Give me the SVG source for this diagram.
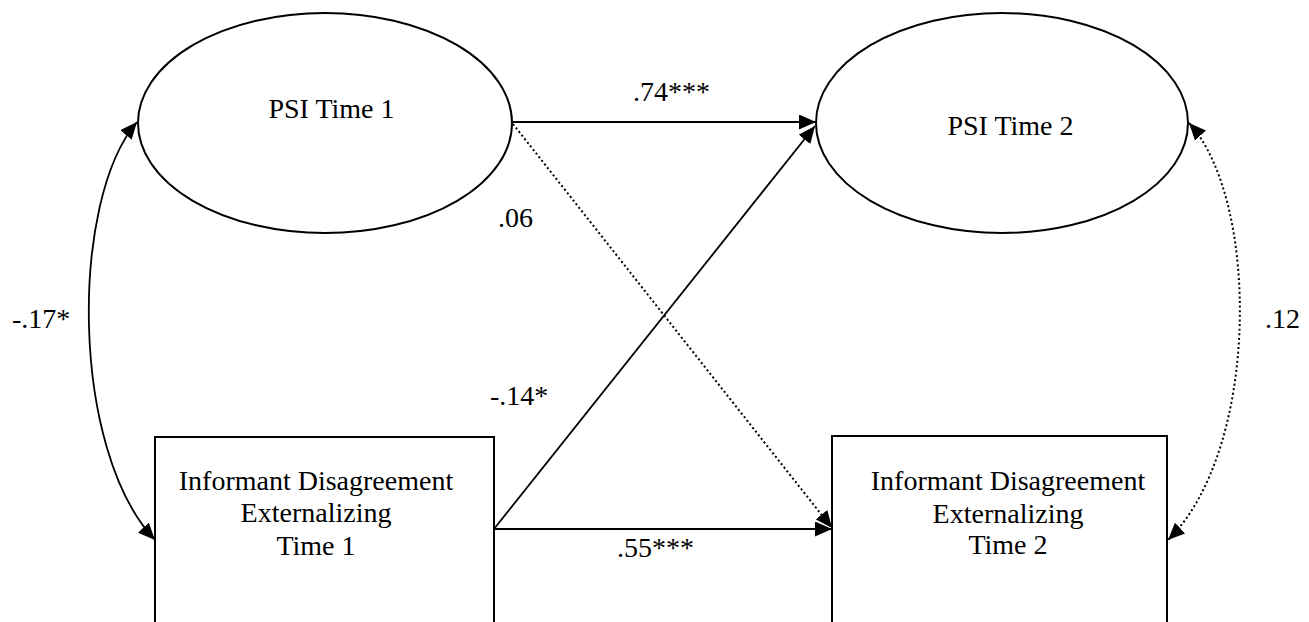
<svg xmlns="http://www.w3.org/2000/svg" width="1309" height="622" viewBox="0 0 1309 622">
<style>
  .node { fill: #ffffff; stroke: #000000; stroke-width: 2; }
  .lbl { font-family: 'Liberation Serif', 'Times New Roman', Times, 'DejaVu Serif', serif; font-size: 28px; fill: #000000; }
  .c { text-anchor: middle; }
  .solid { fill: none; stroke: #000000; stroke-width: 1.8; }
  .dot { fill: none; stroke: #000000; stroke-width: 2; stroke-dasharray: 2 2.6; }
</style>
<defs>
  <marker id="ah" markerUnits="userSpaceOnUse" markerWidth="17" markerHeight="15" refX="17" refY="7.5" orient="auto-start-reverse">
    <path d="M0,0 L17,7.5 L0,15 z" fill="#000000"/>
  </marker>
</defs>
<rect width="1309" height="622" fill="#ffffff"/>
<g id="psi1">
  <ellipse class="node" cx="325" cy="123" rx="187" ry="110"/>
  <text class="lbl c" x="331.5" y="118" font-family="Liberation Serif, serif">PSI Time 1</text>
</g>
<g id="psi2">
  <ellipse class="node" cx="1002" cy="123" rx="186" ry="110"/>
  <text class="lbl c" x="1010.5" y="135" font-family="Liberation Serif, serif">PSI Time 2</text>
</g>
<g id="ide1">
  <rect class="node" x="155" y="437" width="339" height="200"/>
  <text class="lbl c" x="316" y="490" font-family="Liberation Serif, serif">Informant Disagreement</text>
  <text class="lbl c" x="316" y="522" font-family="Liberation Serif, serif">Externalizing</text>
  <text class="lbl c" x="316" y="555" font-family="Liberation Serif, serif">Time 1</text>
</g>
<g id="ide2">
  <rect class="node" x="832" y="436" width="335" height="200"/>
  <text class="lbl c" x="1008" y="490" font-family="Liberation Serif, serif">Informant Disagreement</text>
  <text class="lbl c" x="1008" y="523" font-family="Liberation Serif, serif">Externalizing</text>
  <text class="lbl c" x="1008" y="554" font-family="Liberation Serif, serif">Time 2</text>
</g>
<g id="connectors">
  <path class="solid" d="M512,122 L816,122" marker-end="url(#ah)"/>
  <path class="solid" d="M494,529 L815,126" marker-end="url(#ah)"/>
  <path class="solid" d="M494,529 L832,529" marker-end="url(#ah)"/>
  <path class="dot" d="M513,124 L832,528" marker-end="url(#ah)"/>
  <path class="solid" d="M137,122 C70,200 70,450 155,540" marker-start="url(#ah)" marker-end="url(#ah)"/>
  <path class="dot" d="M1189,123 C1260,200 1260,450 1168,540" marker-start="url(#ah)" marker-end="url(#ah)"/>
</g>
<g id="labels">
  <text class="lbl c" x="671.5" y="101" font-family="Liberation Serif, serif">.74***</text>
  <text class="lbl" x="498" y="227" font-family="Liberation Serif, serif">.06</text>
  <text class="lbl" x="12" y="328" font-family="Liberation Serif, serif">-.17*</text>
  <text class="lbl" x="1265" y="328" font-family="Liberation Serif, serif">.12</text>
  <text class="lbl" x="490" y="405" font-family="Liberation Serif, serif">-.14*</text>
  <text class="lbl" x="617" y="557" font-family="Liberation Serif, serif">.55***</text>
</g>
</svg>
